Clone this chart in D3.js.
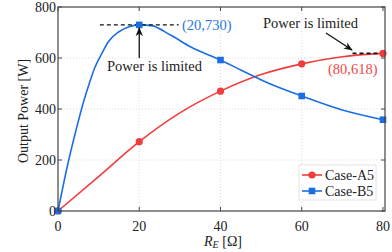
<!DOCTYPE html>
<html><head><meta charset="utf-8">
<script src="https://cdn.jsdelivr.net/npm/d3@7"></script>
<style>body{margin:0;background:#fff}svg{display:block}text{font-family:"Liberation Serif","Times New Roman",serif}</style>
</head><body><svg id="c" width="392" height="252"></svg>
<script>
// ---- data ----
const xTicks = [0, 20, 40, 60, 80];
const yTicks = [0, 200, 400, 600, 800];
const markerX = [0, 20, 40, 60, 80];
const caseA5Markers = [0, 272, 470, 577, 618];
const caseB5Markers = [0, 730, 592, 451, 358];
const caseA5CurveX = [0, 10, 20, 30, 40, 50, 60, 70, 80];
const caseA5CurveY = [0, 135, 272, 385, 470, 535, 577, 605, 618];
const caseB5CurveX = [0, 2.5, 5, 6, 7.5, 9, 10.8, 12.4, 15, 17.5, 20, 23, 27.7, 32.6, 40, 45, 52, 60, 70, 80];
const caseB5CurveY = [0, 190, 352, 412, 490, 560, 618, 664, 703, 723, 730, 727, 690, 644, 592, 553, 500, 451, 396, 358];
const seriesNames = ["Case-A5", "Case-B5"];
const colors = {A: "#f03c3c", B: "#1c6fe3"};

const svg = d3.select("#c");
const L = 58, R = 385, T = 7, B = 211;
const x = d3.scaleLinear().domain([0, 80.5]).range([L, R]);
const y = d3.scaleLinear().domain([0, 800]).range([B, T]);

// grid
const g = svg.append("g");
g.selectAll(".gx").data([20, 40, 60]).enter().append("line")
  .attr("x1", d => x(d)).attr("x2", d => x(d)).attr("y1", T).attr("y2", B)
  .attr("stroke", "#d4d4d4").attr("stroke-width", 0.8).attr("stroke-dasharray", "1,2");
g.selectAll(".gy").data([200, 400, 600]).enter().append("line")
  .attr("y1", d => y(d)).attr("y2", d => y(d)).attr("x1", L).attr("x2", R)
  .attr("stroke", "#d4d4d4").attr("stroke-width", 0.8).attr("stroke-dasharray", "1,2");

// curves
const line = d3.line().x(d => x(d[0])).y(d => y(d[1])).curve(d3.curveMonotoneX);
svg.append("path").datum(caseA5CurveX.map((v, i) => [v, caseA5CurveY[i]]))
  .attr("d", line).attr("fill", "none").attr("stroke", colors.A).attr("stroke-width", 1.6);
svg.append("path").datum(caseB5CurveX.map((v, i) => [v, caseB5CurveY[i]]))
  .attr("d", line).attr("fill", "none").attr("stroke", colors.B).attr("stroke-width", 1.6);

// annotations dashes
svg.append("line").attr("x1", x(10.3)).attr("x2", x(29.7)).attr("y1", y(730)).attr("y2", y(730))
  .attr("stroke", "#111").attr("stroke-width", 1.3).attr("stroke-dasharray", "4,3");
svg.append("line").attr("x1", x(72.5)).attr("x2", x(80)).attr("y1", y(618)).attr("y2", y(618))
  .attr("stroke", "#111").attr("stroke-width", 1.6).attr("stroke-dasharray", "4,3");

// markers
svg.selectAll(".ma").data(markerX).enter().append("circle")
  .attr("cx", d => x(d)).attr("cy", (d, i) => y(caseA5Markers[i])).attr("r", 3.6).attr("fill", colors.A);
svg.selectAll(".mb").data(markerX).enter().append("rect")
  .attr("x", d => x(d) - 3.3).attr("y", (d, i) => y(caseB5Markers[i]) - 3.3)
  .attr("width", 6.6).attr("height", 6.6).attr("fill", colors.B);

// frame
svg.append("rect").attr("x", L).attr("y", T).attr("width", R - L).attr("height", B - T)
  .attr("fill", "none").attr("stroke", "#444").attr("stroke-width", 1.2);

// ticks (inward, mirrored)
const tl = 4;
xTicks.forEach(t => {
  svg.append("line").attr("x1", x(t)).attr("x2", x(t)).attr("y1", B).attr("y2", B - tl).attr("stroke", "#444");
  svg.append("line").attr("x1", x(t)).attr("x2", x(t)).attr("y1", T).attr("y2", T + tl).attr("stroke", "#444");
  svg.append("text").attr("x", x(t)).attr("y", 231).attr("text-anchor", "middle")
    .attr("font-size", 14).attr("fill", "#222").text(t);
});
yTicks.forEach(t => {
  svg.append("line").attr("y1", y(t)).attr("y2", y(t)).attr("x1", L).attr("x2", L + tl).attr("stroke", "#444");
  svg.append("line").attr("y1", y(t)).attr("y2", y(t)).attr("x1", R).attr("x2", R - tl).attr("stroke", "#444");
  svg.append("text").attr("x", L - 2).attr("y", y(t) + 5).attr("text-anchor", "end")
    .attr("font-size", 14).attr("fill", "#222").text(t);
});

// axis titles
svg.append("text").attr("transform", "translate(28,111) rotate(-90)").attr("text-anchor", "middle")
  .attr("font-size", 14).attr("fill", "#222").text("Output Power [W]");
const xt = svg.append("text").attr("x", 223).attr("y", 246).attr("text-anchor", "middle")
  .attr("font-size", 14).attr("fill", "#222");
xt.append("tspan").attr("font-style", "italic").text("R");
xt.append("tspan").attr("font-style", "italic").attr("font-size", 10).attr("dy", 2).text("E");
xt.append("tspan").attr("dy", -2).text(" [Ω]");

// annotation arrows
const defs = svg.append("defs");
defs.append("marker").attr("id", "ah").attr("viewBox", "0 0 10 10").attr("refX", 9).attr("refY", 5)
  .attr("markerWidth", 7).attr("markerHeight", 7).attr("orient", "auto")
  .append("path").attr("d", "M0,1 L10,5 L0,9 L3,5 Z").attr("fill", "#111");
svg.append("line").attr("x1", x(20)).attr("x2", x(20)).attr("y1", 58).attr("y2", 28)
  .attr("stroke", "#111").attr("stroke-width", 1.3).attr("marker-end", "url(#ah)");
svg.append("line").attr("x1", 326).attr("y1", 33).attr("x2", 352).attr("y2", 50)
  .attr("stroke", "#111").attr("stroke-width", 1.3).attr("marker-end", "url(#ah)");

svg.append("text").attr("x", 107).attr("y", 71).attr("font-size", 14.5).attr("fill", "#222").text("Power is limited");
svg.append("text").attr("x", 263).attr("y", 28).attr("font-size", 14.5).attr("fill", "#222").text("Power is limited");
svg.append("text").attr("x", 182).attr("y", 30).attr("font-size", 14.5).attr("fill", "#2a78e4").text("(20,730)");
svg.append("text").attr("x", 328).attr("y", 74).attr("font-size", 14.5).attr("fill", "#f04848").text("(80,618)");

// legend
const lg = svg.append("g").attr("transform", "translate(299,165)");
lg.append("rect").attr("width", 77).attr("height", 35).attr("fill", "#fff").attr("stroke", "#ddd").attr("stroke-width", 0.8);
seriesNames.forEach((n, i) => {
  const cy = 10 + i * 16, c = i === 0 ? colors.A : colors.B;
  lg.append("line").attr("x1", 3).attr("x2", 23).attr("y1", cy).attr("y2", cy).attr("stroke", c).attr("stroke-width", 1.6);
  if (i === 0) lg.append("circle").attr("cx", 13).attr("cy", cy).attr("r", 3.6).attr("fill", c);
  else lg.append("rect").attr("x", 9.7).attr("y", cy - 3.3).attr("width", 6.6).attr("height", 6.6).attr("fill", c);
  lg.append("text").attr("x", 26).attr("y", cy + 5).attr("font-size", 14).attr("fill", "#222").text(n);
});
</script></body></html>
